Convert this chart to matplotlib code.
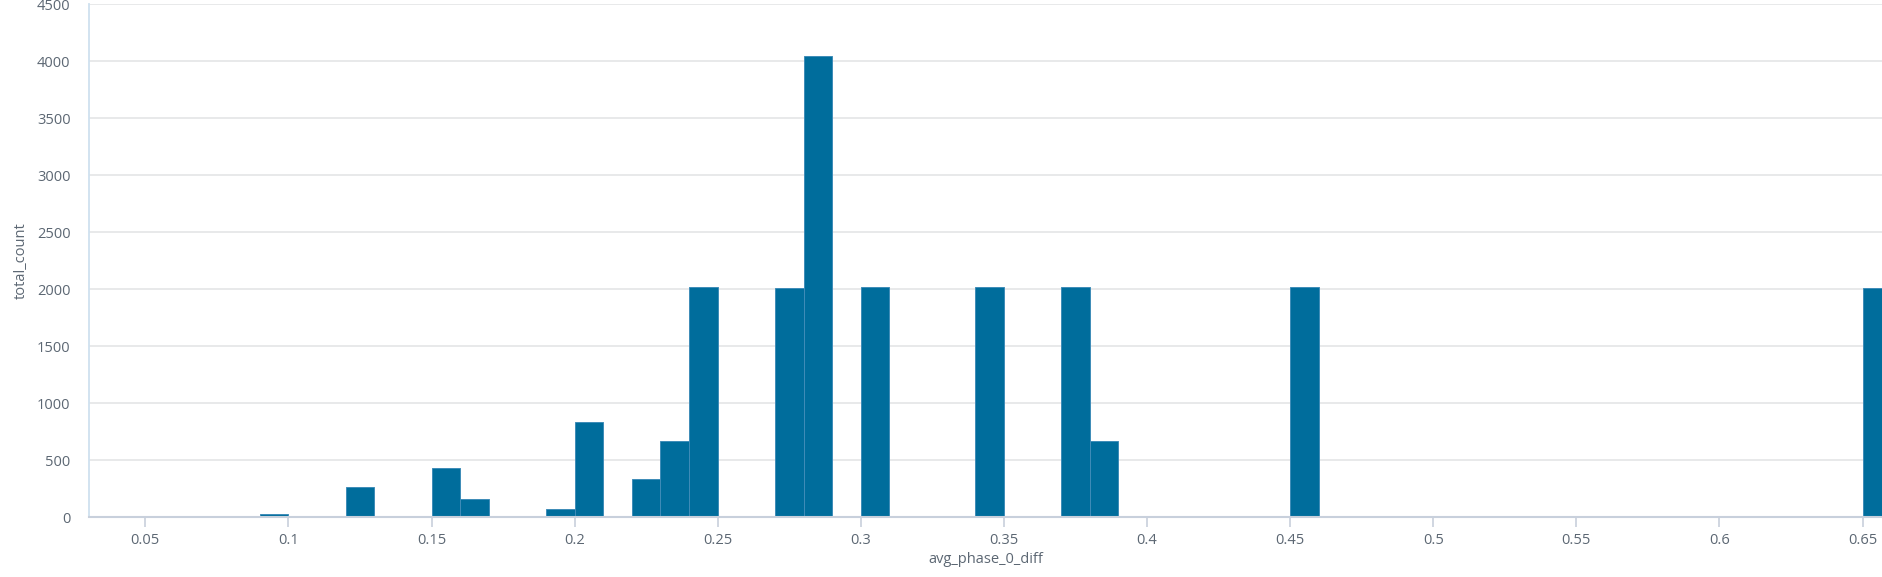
import matplotlib.pyplot as plt
import matplotlib as mpl

mpl.rcParams['font.family'] = ['Open Sans', 'DejaVu Sans']

# histogram bins (left edge, width 0.01) and counts
bin_left = [0.09, 0.12, 0.15, 0.16, 0.19, 0.20, 0.22, 0.23, 0.24,
            0.27, 0.28, 0.30, 0.34, 0.37, 0.38, 0.45, 0.65]
counts = [25, 265, 430, 158, 70, 833, 333, 670, 2015,
          2006, 4042, 2015, 2015, 2015, 670, 2015, 2006]
bin_width = 0.01
x_ticks = [0.05, 0.1, 0.15, 0.2, 0.25, 0.3, 0.35, 0.4, 0.45, 0.5, 0.55, 0.6, 0.65]
x_tick_labels = ['0.05', '0.1', '0.15', '0.2', '0.25', '0.3', '0.35', '0.4',
                 '0.45', '0.5', '0.55', '0.6', '0.65']
y_ticks = [0, 500, 1000, 1500, 2000, 2500, 3000, 3500, 4000, 4500]

fig = plt.figure(figsize=(18.82, 5.77), dpi=100)
ax = fig.add_axes([0.0471, 0.1035, 0.9529, 0.8895])

ax.bar(bin_left, counts, width=bin_width, align='edge',
       color='#006d9c', edgecolor='#3f8cb8', linewidth=0.7, zorder=3)

ax.set_xlim(0.0302, 0.6568)
ax.set_ylim(0, 4500)
ax.set_xticks(x_ticks)
ax.set_xticklabels(x_tick_labels)
ax.set_yticks(y_ticks)

# grid & spines
ax.grid(axis='y', color='#e6e7e8', linewidth=1.3, zorder=0)
ax.grid(axis='x', visible=False)
for s in ['top', 'right']:
    ax.spines[s].set_visible(False)
ax.spines['left'].set_color('#cfe1ef')
ax.spines['left'].set_linewidth(1.3)
ax.spines['bottom'].set_color('#c8d0dc')
ax.spines['bottom'].set_linewidth(1.5)
ax.spines['bottom'].set_zorder(4)

ax.tick_params(axis='x', length=7, width=1.2, color='#c8d0dc',
               labelsize=10.5, labelcolor='#5c6773', pad=4)
ax.tick_params(axis='y', length=0, labelsize=10.5, labelcolor='#5c6773', pad=13)

ax.set_xlabel('avg_phase_0_diff', fontsize=10.5, color='#5c6773', labelpad=3)
ax.set_ylabel('total_count', fontsize=10.5, color='#5c6773', labelpad=6)

fig.savefig('out.png', dpi=100)
